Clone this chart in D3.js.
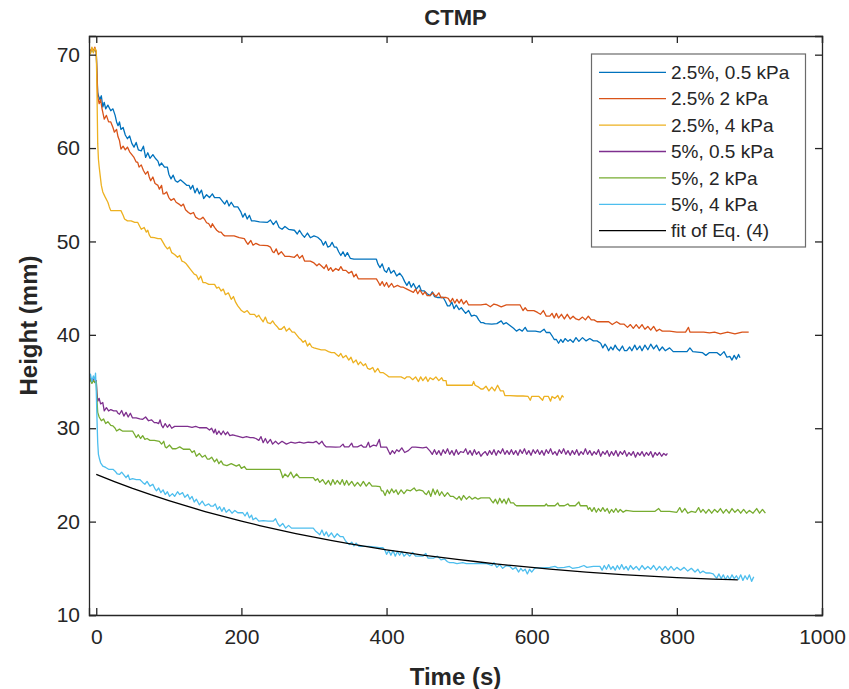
<!DOCTYPE html>
<html><head><meta charset="utf-8">
<script src="https://cdn.jsdelivr.net/npm/d3@7"></script>
<style>body{margin:0;background:#fff}svg{display:block}text{font-family:"Liberation Sans",Arial,sans-serif;fill:#262626}</style>
</head><body><svg id="c" width="849" height="689"></svg>
<script>
const title = "CTMP";
const xLabel = "Time (s)";
const yLabel = "Height (mm)";
const xTicks = [0,200,400,600,800,1000];
const yTicks = [10,20,30,40,50,60,70];
const seriesNames = ["2.5%, 0.5 kPa","2.5% 2 kPa","2.5%, 4 kPa","5%, 0.5 kPa","5%, 2 kPa","5%, 4 kPa","fit of Eq. (4)"];
const seriesColors = ["#0072BD","#D95319","#EDB120","#7E2F8E","#77AC30","#4DBEEE","#000000"];

const s1 = [[-10,70.5],[-8,70.2],[-6,70.6],[-4,70.3],[-2,70.6],[0,70.2],[1,68],[2,66],[3,65.6],[5,65.2],[7,65.6],[9,64.4],[11,64.9],[13,64.2],[16,64.6],[20,64.0],[23,64.2],[26,63.5],[28,62.8],[30,62.4],[32,62.8],[34,62.0],[37,62.2],[40,61.4],[43,61.0],[46,61.3],[49,60.5],[52,60.1],[55,60.6],[58,59.8],[62,59.7],[65,60.2],[68,59.0],[71,59.5],[74,58.9],[78,59.3],[82,58.85],[85,58.6],[87,58.1],[90,58.4],[94,57.96],[98,57.96],[100,57.2],[103,56.7],[106,57.1],[109,56.5],[112,56.35],[116,56.6],[120,56.35],[125,56.0],[128,56.0],[130,55.6],[133,56.0],[136,55.2],[139,55.7],[142,55.1],[145,55.5],[148,54.6],[152,55.0],[156,54.7],[160,55.1],[163,54.7],[166,54.7],[170,54.7],[174,54.3],[177,54.0],[180,54.4],[183,53.8],[186,54.2],[190,53.7],[195,53.7],[199,53.2],[202,52.6],[205,53.0],[208,52.4],[211,52.8],[214,52.2],[218,52.2],[225,52.1],[236,52.05],[240,52.3],[244,51.8],[248,52.2],[252,51.5],[256,51.3],[260,51.6],[265,51.3],[273,51.2],[277,50.8],[280,51.2],[284,50.7],[287,50.45],[291,50.9],[295,50.4],[300,50.6],[305,50.45],[310,50.1],[313,49.6],[316,50.0],[319,49.4],[322,49.5],[325,49.9],[328,49.4],[331,49.4],[334,48.9],[337,48.5],[340,48.9],[343,48.4],[346,48.8],[350,48.2],[355,48.1],[363,48.1],[386,48.1],[388,47.6],[391,47.2],[394,47.6],[397,46.9],[400,46.7],[403,47.2],[406,46.6],[410,46.9],[414,46.3],[418,46.6],[422,46.2],[425,45.7],[428,45.3],[431,45.7],[434,45.1],[437,45.5],[441,44.9],[445,45.3],[448,44.7],[452,44.7],[456,44.4],[460,44.2],[463,44.6],[466,44.1],[470,44.0],[478,44.0],[481,43.6],[484,43.1],[487,43.1],[490,43.5],[493,42.8],[496,43.2],[500,42.7],[503,42.9],[506,42.6],[509,42.3],[513,42.6],[517,42.0],[521,42.1],[524,42.0],[527,41.6],[530,41.3],[533,41.3],[536,41.2],[545,41.15],[552,41.2],[558,41.5],[561,41.15],[565,41.3],[570,41.0],[575,40.7],[579,40.4],[583,40.6],[587,40.4],[591,40.8],[594,40.4],[597,40.4],[605,40.4],[612,40.3],[617,40.6],[620,40.25],[625,40.25],[628,39.9],[631,39.5],[634,39.5],[637,39.1],[640,39.5],[643,39.2],[646,39.6],[650,39.3],[653,39.5],[657,39.2],[661,39.7],[665,39.3],[670,39.7],[675,39.35],[680,39.6],[685,39.35],[690,39.35],[695,39.1],[698,38.6],[701,39.0],[703,38.8],[706,38.3],[709,38.7],[712,38.4],[715,38.9],[718,38.5],[721,38.3],[725,38.8],[728,38.3],[731,38.3],[735,38.7],[738,38.3],[742,38.9],[745,38.4],[749,38.8],[752,38.3],[756,38.9],[760,38.4],[764,39.0],[768,38.5],[772,38.9],[776,38.3],[780,38.7],[784,38.3],[790,38.6],[795,38.2],[800,38.2],[814,38.2],[818,38.6],[822,38.2],[835,38.1],[840,37.8],[845,38.1],[855,38.1],[860,37.8],[865,38.2],[869,37.6],[873,37.7],[876,37.3],[879,37.8],[882,37.4],[885,37.9],[887,37.55]];

const s2 = [[-10,70.8],[-8,70.3],[-6,70.7],[-4,70.4],[-2,70.8],[0,70.3],[1,68],[2,65.5],[4,64.75],[6,65.2],[8,64.2],[11,63.1],[14,63.5],[17,62.8],[20,62.8],[23,62.2],[25,61.7],[28,62.0],[30,61.2],[32,60.8],[34,59.9],[37,60.2],[40,59.8],[43,60.1],[46,59.6],[49,59.3],[52,59.0],[55,58.5],[57,58.5],[59,57.96],[62,58.2],[65,57.6],[68,57.2],[71,57.5],[73,56.9],[75,56.5],[78,56.9],[81,56.2],[85,56.0],[87,55.6],[90,56.0],[92,55.1],[94,55.1],[97,55.3],[100,54.7],[103,54.4],[107,54.6],[110,54.2],[114,54.0],[117,53.8],[120,54.0],[123,53.4],[127,53.1],[130,52.95],[134,53.1],[137,52.6],[141,52.4],[144,52.4],[147,52.6],[149,52.4],[152,52.0],[155,51.9],[158,51.5],[160,51.9],[163,51.5],[166,51.2],[169,51.0],[172,51.0],[175,50.7],[177,50.6],[181,50.6],[186,50.6],[190,50.6],[197,50.4],[204,50.3],[207,49.9],[209,49.7],[213,50.1],[216,49.6],[220,49.8],[225,49.6],[236,49.55],[240,49.4],[243,48.9],[245,48.8],[248,49.2],[251,48.6],[255,48.9],[260,48.4],[266,48.4],[273,48.3],[277,48.6],[280,48.2],[284,48.5],[287,47.9],[291,47.9],[295,47.9],[300,47.7],[304,47.4],[307,47.6],[310,47.4],[314,47.1],[317,47.5],[320,46.9],[323,47.2],[326,46.8],[330,47.1],[334,46.9],[337,47.3],[340,46.9],[344,46.9],[348,46.6],[352,46.8],[355,46.2],[358,46.5],[361,46.0],[365,46.0],[375,46.0],[386,46.0],[389,45.6],[391,45.3],[394,45.7],[397,45.2],[400,45.6],[403,45.1],[407,45.5],[410,45.1],[415,45.3],[420,45.1],[423,45.1],[428,44.9],[433,44.7],[437,44.55],[440,44.9],[443,44.4],[446,44.8],[450,44.3],[453,44.6],[456,44.2],[460,44.2],[464,44.5],[468,44.1],[472,44.5],[475,44.0],[478,44.0],[482,44.0],[485,43.9],[488,43.5],[491,43.9],[494,43.4],[497,43.8],[500,43.4],[503,43.8],[506,43.3],[510,43.65],[513,43.2],[518,43.2],[530,43.2],[537,43.3],[543,43.0],[548,43.3],[552,43.2],[558,43.0],[565,43.2],[572,43.2],[578,43.2],[584,43.2],[586,42.9],[588,42.6],[591,42.9],[594,42.6],[598,42.6],[603,42.6],[608,42.4],[612,42.2],[616,42.6],[620,42.0],[625,42.0],[628,42.3],[631,41.8],[634,42.3],[637,41.8],[641,42.2],[645,41.7],[649,42.2],[653,41.7],[657,42.0],[661,41.7],[665,41.6],[670,41.9],[674,41.6],[678,42.0],[682,41.6],[686,41.6],[690,41.4],[700,41.4],[706,41.4],[711,41.1],[717,41.4],[722,41.15],[727,41.15],[732,40.8],[736,41.1],[740,40.7],[744,41.1],[748,40.7],[752,41.1],[756,40.6],[760,40.9],[764,40.5],[768,40.9],[772,40.4],[776,40.6],[780,40.4],[790,40.4],[800,40.3],[812,40.3],[816,40.8],[818,40.3],[830,40.3],[837,40.3],[845,40.2],[852,40.3],[860,40.1],[870,40.3],[880,40.1],[890,40.3],[899,40.3]];

const s3 = [[-10,70.6],[-8,70.1],[-6,70.8],[-4,70.2],[-2,70.7],[0,70.4],[1,66],[2,60.5],[3,58.8],[4,58.0],[5.5,57.0],[7,56.0],[9,55.3],[12,54.8],[16,54.2],[18,53.7],[20,53.3],[25,53.3],[30,53.3],[34,53.3],[37,52.8],[39,52.4],[43,52.2],[48,52.2],[53,52.05],[57,52.05],[60,51.6],[62,51.3],[66,51.5],[69,51.0],[71,51.2],[73,50.7],[75,50.45],[80,50.4],[85,50.3],[89,50.3],[92,49.9],[95,49.5],[98,49.2],[101,49.4],[104,48.8],[108,48.6],[112,48.3],[115,48.5],[118,47.9],[121,47.8],[124,47.6],[126,47.4],[129,47.1],[132,46.8],[135,46.5],[138,46.4],[141,45.9],[144,46.3],[147,45.6],[150,45.6],[155,45.4],[160,45.4],[163,45.4],[166,45.0],[169,45.1],[172,44.7],[175,44.9],[178,44.3],[182,44.5],[186,43.8],[189,44.1],[192,43.5],[195,43.1],[198,42.8],[200,42.6],[204,42.4],[208,42.6],[212,42.2],[218,42.2],[221,41.9],[224,42.1],[227,41.7],[230,41.4],[233,41.9],[236,41.3],[240,41.2],[243,41.5],[246,41.15],[249,40.9],[252,40.6],[255,40.6],[259,40.9],[262,40.4],[266,40.7],[270,40.3],[273,40.3],[276,40.0],[279,39.7],[282,39.5],[285,39.2],[288,39.4],[291,38.8],[294,39.1],[297,38.7],[300,38.6],[305,38.5],[310,38.4],[315,38.4],[320,38.2],[324,38.1],[328,38.1],[331,37.9],[334,37.7],[337,38.0],[340,37.55],[344,37.8],[348,37.3],[351,37.6],[354,37.0],[358,37.3],[361,36.8],[364,37.1],[368,36.7],[371,36.9],[374,36.4],[377,36.3],[381,36.5],[384,36.0],[388,36.4],[391,35.96],[395,35.96],[400,35.7],[403,35.5],[408,35.5],[420,35.5],[425,35.3],[428,35.5],[432,35.5],[436,35.2],[440,35.5],[444,35.0],[447,35.5],[450,35.1],[454,35.5],[457,35.0],[460,35.4],[464,35.2],[468,35.5],[472,35.1],[476,35.4],[478,35.1],[482,35.1],[483,34.6],[490,34.6],[500,34.6],[510,34.6],[518,34.6],[520,35.0],[522,34.6],[527,34.4],[530,34.2],[533,34.2],[537,34.5],[541,34.0],[545,34.4],[549,34.0],[553,34.6],[557,34.0],[561,34.0],[563,33.5],[570,33.5],[580,33.45],[588,33.45],[595,33.4],[598,33.0],[600,33.4],[610,33.4],[615,33.0],[617,33.4],[623,33.4],[626,32.9],[628,33.4],[632,33.2],[636,33.5],[639,33.0],[642,33.5],[644,33.3]];

const s4 = [[-10,35.0],[-8,35.3],[-6,34.9],[-4,35.2],[-2,34.9],[0,35.1],[1,33.8],[2,32.9],[4,33.2],[6,32.6],[9,32.75],[11,31.85],[14,32.2],[17,31.85],[20,32.0],[24,31.85],[28,31.85],[30,31.6],[32,31.5],[35,31.9],[38,31.3],[41,31.7],[44,31.2],[47,31.6],[50,31.1],[55,31.1],[60,31.0],[64,30.95],[68,31.2],[72,30.8],[76,30.9],[80,30.6],[83,30.6],[86,30.5],[88,30.9],[90,30.3],[92,30.05],[95,30.5],[98,30.1],[101,30.4],[104,30.0],[108,30.2],[112,30.2],[115,30.2],[120,30.2],[126,30.2],[132,30.1],[137,30.2],[142,30.05],[147,30.05],[152,30.05],[156,29.8],[159,30.0],[162,29.5],[164,29.9],[166,29.35],[169,29.7],[172,29.3],[175,29.7],[178,29.3],[181,29.6],[184,29.2],[188,29.3],[192,29.2],[197,29.1],[202,29.0],[207,29.1],[212,29.0],[216,29.0],[220,28.9],[224,28.7],[227,29.1],[230,28.45],[233,28.9],[236,28.4],[240,28.8],[243,28.3],[247,28.6],[251,28.3],[256,28.6],[262,28.3],[268,28.5],[274,28.4],[280,28.5],[286,28.4],[292,28.5],[299,28.45],[303,28.6],[307,28.3],[311,28.6],[314,28.2],[317,28.0],[322,28.0],[330,27.98],[336,28.0],[340,28.3],[342,28.0],[348,28.0],[352,28.4],[354,28.0],[360,28.0],[365,28.2],[368,27.98],[372,27.98],[375,28.5],[377,27.98],[382,28.2],[386,28.1],[390,28.8],[392,27.98],[400,27.98],[403,27.5],[405,27.2],[408,27.6],[411,27.3],[414,27.7],[417,27.5],[421,27.9],[425,27.4],[430,27.6],[435,27.98],[440,27.98],[450,27.9],[455,27.98],[460,27.55],[463,27.2],[466,27.7],[469,27.2],[472,27.6],[475,27.1],[478,27.7],[481,27.3],[484,27.8],[487,27.2],[490,27.6],[493,27.1],[496,27.7],[499,27.2],[502,27.5],[506,27.4],[509,27.8],[512,27.2],[515,27.6],[518,27.1],[521,27.7],[524,27.2],[527,27.5],[530,27.0],[533,27.3],[536,27.5],[539,27.1],[542,27.6],[545,27.2],[548,27.7],[551,27.1],[554,27.6],[557,27.3],[560,27.8],[563,27.2],[566,27.6],[569,27.2],[572,27.7],[575,27.2],[578,27.6],[581,27.1],[584,27.7],[587,27.3],[590,27.8],[593,27.2],[596,27.6],[599,27.1],[602,27.7],[605,27.3],[608,27.7],[611,27.2],[614,27.6],[617,27.1],[620,27.7],[623,27.3],[626,27.8],[629,27.2],[632,27.5],[635,27.1],[638,27.7],[641,27.3],[644,27.8],[647,27.2],[650,27.6],[653,27.1],[656,27.6],[659,27.2],[662,27.7],[665,27.1],[668,27.5],[671,27.2],[674,27.8],[677,27.2],[680,27.6],[683,27.1],[686,27.5],[689,27.2],[692,27.7],[695,27.0],[698,27.5],[701,27.2],[704,27.6],[707,27.0],[710,27.5],[713,27.1],[716,27.6],[719,27.0],[722,27.5],[725,27.2],[728,27.6],[731,27.0],[734,27.4],[737,27.1],[740,27.5],[743,26.9],[746,27.4],[749,27.1],[752,27.5],[755,27.0],[758,27.4],[761,27.1],[764,27.5],[767,26.9],[770,27.4],[773,27.1],[776,27.4],[779,27.0],[782,27.3],[785,27.1],[787,27.3]];

const s5 = [[-10,34.9],[-8,35.2],[-6,34.8],[-4,35.1],[-2,34.9],[0,35.0],[1,33],[2,31.7],[4,31.2],[7,30.8],[10,31.0],[13,30.5],[16,30.7],[20,30.3],[23,30.25],[26,30.0],[28,29.7],[32,29.9],[36,29.7],[40,29.7],[45,29.7],[50,29.7],[53,29.3],[55,29.0],[58,29.3],[61,28.9],[64,29.2],[67,28.8],[70,28.9],[74,28.7],[80,28.7],[87,28.6],[90,28.3],[93,28.6],[95,28.0],[97,27.9],[101,28.2],[105,27.8],[110,27.8],[115,28.0],[120,27.75],[129,27.75],[132,27.4],[135,27.6],[138,27.0],[142,27.3],[146,26.9],[150,27.1],[153,26.7],[156,26.7],[159,26.9],[163,26.4],[166,26.7],[169,26.2],[172,26.5],[175,26.1],[180,26.0],[186,26.2],[193,25.95],[197,26.1],[200,25.7],[204,25.9],[207,25.6],[215,25.6],[225,25.6],[235,25.6],[245,25.6],[253,25.6],[255,25.2],[257,24.7],[260,25.1],[264,24.8],[268,25.3],[272,24.7],[276,25.1],[280,24.7],[290,24.7],[299,24.7],[302,24.4],[305,24.6],[308,24.2],[312,24.5],[316,24.0],[320,24.4],[323,23.9],[326,24.5],[329,24.0],[332,24.4],[336,24.0],[339,24.5],[342,23.9],[345,24.4],[348,23.9],[352,24.3],[356,23.8],[360,24.2],[364,23.8],[368,24.3],[372,23.8],[376,24.2],[380,23.8],[385,23.8],[391,23.75],[393,23.3],[395,23.3],[398,22.8],[401,23.4],[404,23.0],[407,23.5],[410,23.1],[413,23.4],[416,22.9],[420,23.4],[424,23.0],[428,23.4],[433,23.3],[438,23.6],[441,23.3],[445,23.4],[450,23.3],[453,23.0],[455,22.9],[458,23.3],[461,22.7],[464,23.5],[467,22.9],[470,23.4],[473,22.8],[476,23.2],[480,22.7],[484,23.1],[488,22.7],[492,22.7],[495,22.5],[497,22.4],[500,22.7],[503,22.3],[506,22.8],[510,22.4],[514,22.7],[518,22.4],[522,22.6],[526,22.4],[530,22.55],[535,22.55],[542,22.55],[545,22.2],[547,22.0],[550,22.4],[553,21.9],[556,22.5],[559,22.0],[562,22.4],[565,21.9],[568,22.5],[571,22.0],[575,22.0],[577,21.8],[579,21.7],[590,21.7],[600,21.7],[610,21.7],[618,21.7],[620,21.9],[622,21.7],[632,21.7],[636,22.0],[638,21.7],[645,21.7],[650,21.9],[652,21.7],[660,21.7],[665,22.1],[667,21.7],[676,21.7],[678,21.3],[680,21.5],[683,21.1],[686,21.5],[689,21.0],[692,21.4],[695,21.1],[698,21.5],[701,21.1],[704,21.4],[707,20.9],[710,21.3],[713,21.0],[716,21.4],[719,21.0],[722,21.3],[726,21.0],[730,21.2],[740,21.1],[750,21.1],[760,21.1],[770,21.1],[775,21.4],[778,21.1],[790,21.1],[800,21.0],[804,21.5],[807,21.0],[811,21.4],[815,20.9],[820,21.1],[826,21.0],[830,21.5],[833,21.0],[836,21.3],[840,20.9],[844,21.3],[848,20.9],[852,21.3],[856,21.0],[860,21.4],[864,20.9],[868,21.3],[872,20.9],[876,21.4],[880,21.0],[884,21.3],[888,20.9],[892,21.3],[896,20.9],[900,21.2],[905,20.9],[910,21.4],[914,20.9],[918,21.3],[922,20.9]];

const s6 = [[-10,35.2],[-8,35.8],[-6,35.0],[-4,35.6],[-2,35.2],[-1,35.9],[0,34],[1,31],[2,28.45],[3,27.2],[4.5,26.7],[6,26.3],[9,25.95],[13,25.8],[17,25.6],[23,25.6],[26,25.4],[29,25.1],[32,25.05],[35,25.3],[38,25.0],[41,24.7],[44,25.0],[46,24.5],[50,24.6],[55,24.5],[60,24.5],[64,24.2],[67,24.0],[70,24.3],[74,23.8],[78,24.0],[81,23.5],[83,23.3],[86,23.6],[89,23.1],[92,23.4],[95,22.9],[98,23.2],[101,22.7],[105,23.0],[108,22.7],[112,23.2],[115,22.9],[119,23.1],[122,22.6],[126,22.9],[129,22.4],[132,22.7],[135,22.1],[138,22.4],[142,21.8],[146,22.2],[150,21.7],[155,21.9],[158,21.65],[161,21.65],[164,21.9],[167,21.3],[170,21.6],[173,21.1],[176,21.5],[179,21.0],[183,21.3],[187,20.9],[191,21.2],[195,20.95],[202,20.95],[205,20.6],[208,21.0],[211,20.4],[214,20.7],[216,20.2],[220,20.4],[224,20.05],[230,20.1],[237,20.05],[244,20.05],[247,20.3],[250,19.8],[253,19.5],[257,19.8],[261,19.3],[265,19.6],[269,19.3],[274,19.3],[280,19.3],[290,19.3],[299,19.3],[302,19.0],[305,18.8],[308,18.6],[311,19.1],[314,18.5],[317,18.9],[320,18.4],[324,18.8],[328,18.3],[332,18.7],[336,18.4],[340,18.4],[343,18.0],[346,17.7],[349,17.55],[352,17.8],[355,17.4],[358,17.7],[362,17.35],[368,17.35],[375,17.35],[382,17.3],[390,17.2],[395,17.2],[398,16.9],[400,16.5],[403,16.9],[406,16.4],[409,16.9],[412,16.3],[415,16.8],[418,16.4],[421,16.8],[424,16.3],[428,16.6],[432,16.3],[436,16.7],[440,16.3],[445,16.3],[450,16.3],[454,16.6],[457,16.1],[460,16.1],[465,16.1],[470,16.3],[475,15.9],[480,16.0],[484,15.7],[487,15.6],[492,15.6],[497,15.5],[505,15.6],[510,15.5],[520,15.5],[530,15.5],[538,15.5],[545,15.3],[548,15.6],[552,15.1],[556,15.4],[560,15.0],[565,15.3],[570,15.2],[574,14.9],[578,15.1],[582,14.6],[585,15.0],[588,14.7],[591,14.9],[594,14.4],[597,14.9],[600,14.6],[604,15.0],[607,15.05],[615,15.05],[625,15.1],[632,15.2],[636,15.05],[645,15.1],[652,15.2],[656,15.0],[665,15.1],[672,15.3],[676,15.1],[685,15.2],[694,15.2],[697,14.8],[700,15.3],[703,14.9],[706,15.4],[709,14.9],[712,15.2],[715,14.8],[718,15.3],[721,14.9],[724,15.4],[727,14.9],[730,15.2],[733,14.8],[736,15.3],[740,14.9],[744,15.2],[748,14.8],[752,15.3],[756,14.9],[760,15.2],[764,14.9],[768,15.3],[772,14.8],[776,15.2],[780,14.8],[784,15.2],[788,14.8],[792,15.2],[796,14.8],[800,15.1],[805,14.8],[810,15.1],[815,14.7],[820,15.0],[825,14.6],[829,14.9],[832,14.5],[836,14.7],[840,14.5],[845,14.5],[850,14.4],[853,14.1],[855,13.95],[858,14.4],[861,13.9],[864,14.3],[867,13.8],[870,14.2],[873,13.8],[876,14.3],[879,13.9],[882,14.2],[885,13.8],[888,14.3],[891,13.7],[894,14.2],[897,13.8],[900,14.3],[903,13.6],[906,14.1]];

const fitCurve = [[0,25.05],[25,24.29],[50,23.56],[75,22.88],[100,22.25],[125,21.65],[150,21.08],[175,20.55],[200,20.06],[225,19.58],[250,19.14],[275,18.72],[300,18.33],[325,17.97],[350,17.62],[375,17.29],[400,16.98],[425,16.70],[450,16.42],[475,16.17],[500,15.92],[525,15.70],[550,15.48],[575,15.28],[600,15.09],[625,14.91],[650,14.75],[675,14.60],[700,14.46],[725,14.33],[750,14.21],[775,14.10],[800,14.0],[825,13.92],[850,13.85],[875,13.79],[884,13.77]];

const allSeries = [s1,s2,s3,s4,s5,s6,fitCurve];

const L = 89, R = 822, T = 36, B = 615;
const svg = d3.select("#c");
const x = d3.scaleLinear().domain([-10,1000]).range([L,R]);
const y = d3.scaleLinear().domain([10,72]).range([B,T]);
const axisCol = "#262626";

svg.append("defs").append("clipPath").attr("id","clip")
  .append("rect").attr("x",L).attr("y",T).attr("width",R-L).attr("height",B-T);

const line = d3.line().x(d=>x(d[0])).y(d=>y(d[1]));
const g = svg.append("g").attr("clip-path","url(#clip)");
allSeries.forEach((s,i)=>{
  g.append("path").datum(s).attr("d",line).attr("fill","none")
   .attr("stroke",seriesColors[i]).attr("stroke-width", i===6?1.3:1.3)
   .attr("stroke-linejoin","round");
});

// axes
const tl = 7;
const fs = 21;
const xb = svg.append("g").attr("transform",`translate(0,${B})`)
  .call(d3.axisBottom(x).tickValues(xTicks).tickSize(-tl).tickPadding(14).tickFormat(d3.format("d")));
const xt = svg.append("g").attr("transform",`translate(0,${T})`)
  .call(d3.axisTop(x).tickValues(xTicks).tickSize(-tl).tickFormat(""));
const yl = svg.append("g").attr("transform",`translate(${L},0)`)
  .call(d3.axisLeft(y).tickValues(yTicks).tickSize(-tl).tickPadding(9).tickFormat(d3.format("d")));
const yr = svg.append("g").attr("transform",`translate(${R},0)`)
  .call(d3.axisRight(y).tickValues(yTicks).tickSize(-tl).tickFormat(""));
[xb,xt,yl,yr].forEach(a=>{
  a.select(".domain").attr("stroke",axisCol).attr("stroke-width",1.3);
  a.selectAll(".tick line").attr("stroke",axisCol).attr("stroke-width",1.3);
  a.selectAll(".tick text").attr("fill",axisCol).style("font-size",fs+"px")
   .style("font-family","'Liberation Sans',Arial,sans-serif");
});

// title and labels
svg.append("text").attr("x",(L+R)/2).attr("y",25).attr("text-anchor","middle")
  .style("font-size","22px").style("font-weight","bold").text(title);
svg.append("text").attr("x",(L+R)/2).attr("y",685).attr("text-anchor","middle")
  .style("font-size","24px").style("font-weight","bold").text(xLabel);
svg.append("text").attr("transform",`translate(37,${(T+B)/2}) rotate(-90)`).attr("text-anchor","middle")
  .style("font-size","24px").style("font-weight","bold").text(yLabel);

// legend
const lg = svg.append("g");
lg.append("rect").attr("x",591.5).attr("y",54).attr("width",214).attr("height",193)
  .attr("fill","#fff").attr("stroke","#6b6b6b").attr("stroke-width",1.2);
seriesNames.forEach((n,i)=>{
  const yy = 72.3 + i*26.4;
  lg.append("line").attr("x1",599).attr("x2",666).attr("y1",yy).attr("y2",yy)
    .attr("stroke",seriesColors[i]).attr("stroke-width",1.3);
  lg.append("text").attr("x",671).attr("y",yy).attr("dy","0.35em")
    .style("font-size","19px").text(n);
});
</script></body></html>
